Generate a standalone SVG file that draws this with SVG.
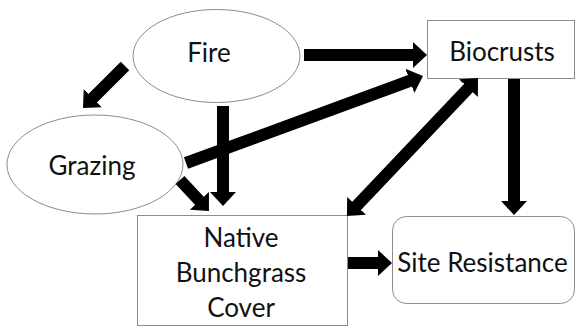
<svg xmlns="http://www.w3.org/2000/svg" width="576" height="328" viewBox="0 0 576 328">
<style>
.node{fill:#fff;stroke:#8c8c8c;stroke-width:1}
.lbl{font-family:Lato,"Open Sans","Liberation Sans",sans-serif;font-size:26px;fill:#111;text-anchor:middle}
.arr{stroke:#000;stroke-width:12;fill:none}
</style>
<defs>
<marker id="ah" markerUnits="userSpaceOnUse" markerWidth="16" markerHeight="28" viewBox="0 -14 16 28" refX="1" refY="0" orient="auto-start-reverse">
<path d="M0,-13 L14,0 L0,13 Z" fill="#000"/>
</marker>
</defs>
<rect width="576" height="328" fill="#fff"/>
<g id="fire"><ellipse class="node" cx="216.5" cy="56" rx="83.5" ry="46.5"/><text class="lbl" x="209" y="62">Fire</text></g>
<g id="grazing"><ellipse class="node" cx="95" cy="164.5" rx="88" ry="49.5"/><text class="lbl" x="92" y="175">Grazing</text></g>
<g id="biocrusts"><rect class="node" x="427.5" y="20.5" width="147" height="58"/><text class="lbl" x="502" y="61">Biocrusts</text></g>
<g id="native"><rect class="node" x="137.5" y="215.5" width="210" height="110"/><text class="lbl" x="241" y="247">Native</text><text class="lbl" x="241" y="282">Bunchgrass</text><text class="lbl" x="241" y="317">Cover</text></g>
<g id="site"><rect class="node" x="392.5" y="216.5" width="182" height="87" rx="14" ry="14"/><text class="lbl" x="482.5" y="272">Site Resistance</text></g>
<g id="connectors">
<line class="arr" x1="304" y1="55" x2="414" y2="55" marker-end="url(#ah)"/>
<line class="arr" x1="125" y1="66" x2="92.2" y2="98.8" marker-end="url(#ah)"/>
<line class="arr" x1="223" y1="106" x2="223" y2="193" marker-end="url(#ah)"/>
<line class="arr" x1="186" y1="163" x2="410.8" y2="80.5" marker-end="url(#ah)"/>
<line class="arr" x1="180" y1="180" x2="200.1" y2="201.5" marker-end="url(#ah)"/>
<line class="arr" x1="469.1" y1="87.4" x2="355.9" y2="206.6" marker-start="url(#ah)" marker-end="url(#ah)"/>
<line class="arr" x1="514" y1="79" x2="514" y2="202" marker-end="url(#ah)"/>
<line class="arr" x1="348" y1="263" x2="379" y2="263" marker-end="url(#ah)"/>
</g>
</svg>
